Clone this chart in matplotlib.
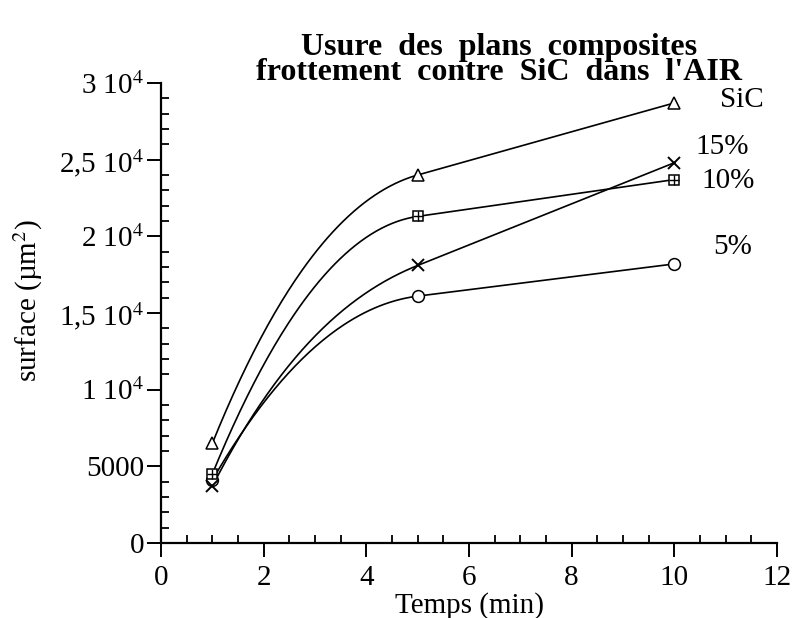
import numpy as np
import matplotlib
matplotlib.use("Agg")
import matplotlib.pyplot as plt
from matplotlib.ticker import MultipleLocator, FixedLocator

plt.rcParams['font.family'] = ['Liberation Serif', 'DejaVu Serif']
plt.rcParams['mathtext.fontset'] = 'stix'

# Wear area measurements (µm²) after rubbing against SiC in air
temps = [1, 5, 10]
sic = [6500, 24000, 28700]
pct15 = [3700, 18100, 24800]
pct10 = [4500, 21300, 23700]
pct5 = [4100, 16100, 18200]

series_labels = ["SiC", "15%", "10%", "5%"]

y_ticks = [0, 5000, 10000, 15000, 20000, 25000, 30000]
y_labels = ["0", "5000", r"1 10$^4$", r"1,5 10$^4$", r"2 10$^4$", r"2,5 10$^4$", r"3 10$^4$"]
x_ticks = [0, 2, 4, 6, 8, 10, 12]

title = "Usure  des  plans  composites\nfrottement  contre  SiC  dans  l'AIR"


def smooth_curve(x, y, n=120):
    """Piecewise cubic Hermite curve: steep start, tangent to the last segment."""
    x = np.asarray(x, float)
    y = np.asarray(y, float)
    sec = np.diff(y) / np.diff(x)
    slopes = np.empty(len(x))
    slopes[-1] = sec[-1]
    for i in range(len(x) - 2, 0, -1):
        slopes[i] = sec[i]
    slopes[0] = 2 * sec[0] - 0.5 * slopes[1]
    xs_all, ys_all = [], []
    for i in range(len(x) - 1):
        h = x[i + 1] - x[i]
        t = np.linspace(0, 1, n)
        h00 = 2 * t ** 3 - 3 * t ** 2 + 1
        h10 = t ** 3 - 2 * t ** 2 + t
        h01 = -2 * t ** 3 + 3 * t ** 2
        h11 = t ** 3 - t ** 2
        ys = h00 * y[i] + h10 * h * slopes[i] + h01 * y[i + 1] + h11 * h * slopes[i + 1]
        xs_all.append(x[i] + t * h)
        ys_all.append(ys)
    return np.concatenate(xs_all), np.concatenate(ys_all)


fig = plt.figure(figsize=(7.94, 6.18), dpi=100)
ax = fig.add_axes([0.2028, 0.1214, 0.7758, 0.7443])

for vals in (sic, pct10, pct15, pct5):
    xs, ys = smooth_curve(temps, vals)
    ax.plot(xs, ys, color='black', lw=1.2, zorder=2)

mkw = dict(linestyle='none', color='black', markerfacecolor='white',
           markeredgecolor='black', markeredgewidth=1.1, zorder=3)
ax.plot(temps, sic, marker='^', markersize=9, **mkw)
ax.plot(temps, pct5, marker='o', markersize=8.5, **mkw)
ax.plot(temps, pct10, marker='s', markersize=7.5, **mkw)
ax.plot(temps, pct10, marker='+', markersize=7.5, linestyle='none', color='black',
        markeredgewidth=1.0, zorder=4)
ax.plot(temps, pct15, marker='x', markersize=8.5, linestyle='none', color='black',
        markeredgewidth=1.4, zorder=4)

label_pos = [(11.31, 28900), (10.94, 25800), (11.04, 23600), (11.13, 19300)]
for txt, (lx, ly) in zip(series_labels, label_pos):
    ax.text(lx, ly, txt, fontsize=21, ha='center', va='center')

ax.set_xlim(0, 12)
ax.set_ylim(0, 30000)
for s in ('top', 'right'):
    ax.spines[s].set_visible(False)
for s in ('left', 'bottom'):
    ax.spines[s].set_linewidth(1.6)

ax.xaxis.set_major_locator(FixedLocator(x_ticks))
ax.xaxis.set_minor_locator(MultipleLocator(0.5))
ax.yaxis.set_major_locator(FixedLocator(y_ticks))
ax.yaxis.set_minor_locator(MultipleLocator(1000))
ax.set_yticklabels(y_labels)
ax.tick_params(which='major', direction='out', length=10, width=1.4, labelsize=21)
ax.tick_params(axis='y', which='major', pad=2)
ax.tick_params(axis='x', which='major', pad=6)
ax.tick_params(which='minor', direction='in', length=6, width=1.3)

ax.set_xlabel("Temps (min)", fontsize=21, va='center')
ax.xaxis.set_label_coords(0.5, -0.135)
ax.set_ylabel("surface (µm$^2$)", fontsize=21, va='center')
ax.yaxis.set_label_coords(-0.215, 0.528)

fig.text(0.628, 0.903, title, fontsize=23, fontweight='bold',
         ha='center', va='center', multialignment='center', linespacing=0.82)

fig.savefig("out.png", dpi=100)
